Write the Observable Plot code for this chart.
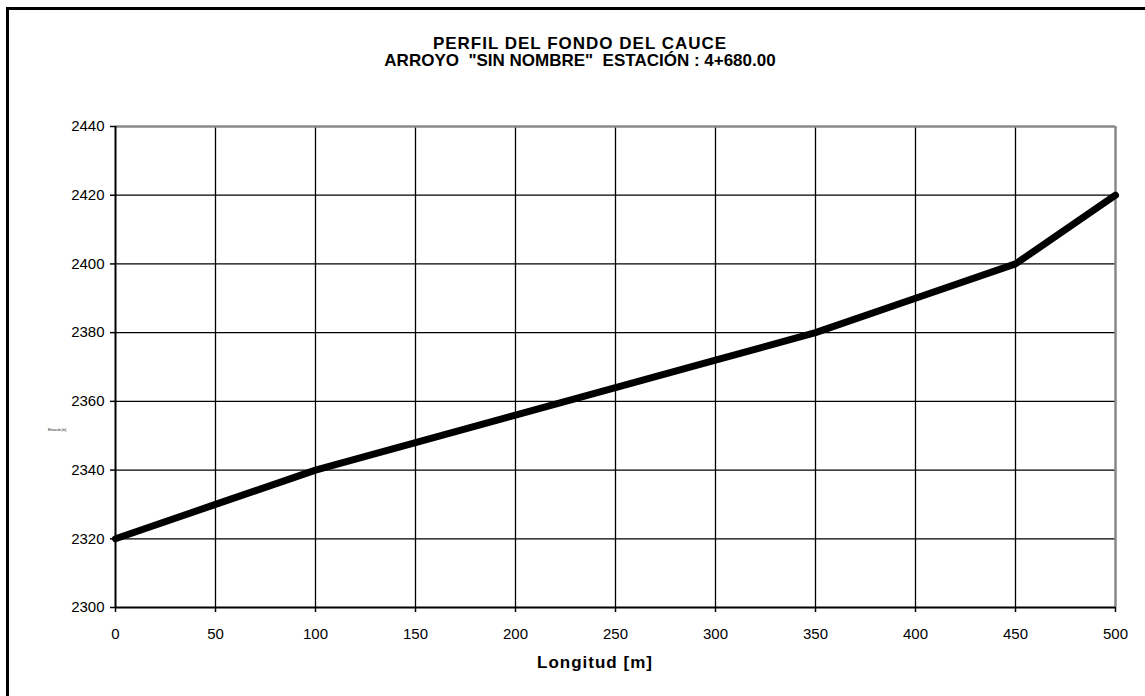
<!DOCTYPE html>
<html>
<head>
<meta charset="utf-8">
<script src="https://cdn.jsdelivr.net/npm/d3@7"></script>
<script src="https://cdn.jsdelivr.net/npm/@observablehq/plot@0.6"></script>
<style>
  html, body { margin: 0; padding: 0; background: #fff; overflow: hidden; }
  body { width: 1145px; height: 696px; position: relative; font-family: "Liberation Sans", Arial, sans-serif; }
  #frameL { position: absolute; left: 6px; top: 7px; width: 3px; height: 689px; background: #000; }
  #frameT { position: absolute; left: 6px; top: 7px; width: 1139px; height: 3px; background: #000; }
  #chart { position: absolute; left: 0; top: 0; }
  .title { position: absolute; left: 0; width: 1160px; text-align: center; font-weight: bold; font-size: 17px; color: #000; line-height: 17px; white-space: pre; }
  #xlabel { position: absolute; left: 495px; width: 200px; top: 653px; text-align: center; font-weight: bold; font-size: 17px; letter-spacing: 1px; }
  #ylabel { position: absolute; left: 48px; top: 428px; font-size: 3px; }
</style>
</head>
<body>
<div id="chart"></div>
<div id="frameL"></div>
<div id="frameT"></div>
<div class="title" style="top:35px; letter-spacing:1px">PERFIL DEL FONDO DEL CAUCE</div>
<div class="title" style="top:52px">ARROYO  "SIN NOMBRE"  ESTACIÓN : 4+680.00</div>
<div id="xlabel">Longitud [m]</div>
<div id="ylabel">Elevación [m]</div>
<script>
const longitud = [0, 50, 100, 150, 200, 250, 300, 350, 400, 450, 500];
const elevacion = [2320, 2330, 2340, 2348, 2356, 2364, 2372, 2380, 2390, 2400, 2420];
const xTicks = [0, 50, 100, 150, 200, 250, 300, 350, 400, 450, 500];
const yTicks = [2300, 2320, 2340, 2360, 2380, 2400, 2420, 2440];

const data = longitud.map((x, i) => ({x, y: elevacion[i]}));

const chart = Plot.plot({
  width: 1145,
  height: 696,
  marginLeft: 115,
  marginRight: 30,
  marginTop: 126,
  marginBottom: 89,
  style: {fontFamily: '"Liberation Sans", Arial, sans-serif', fontSize: "15px", color: "#000", background: "transparent"},
  x: {domain: [0, 500]},
  y: {domain: [2300, 2440]},
  marks: [
    Plot.ruleX(xTicks.filter(d => d > 0 && d < 500), {stroke: "#000", strokeWidth: 1.3}),
    Plot.ruleY(yTicks.filter(d => d > 2300 && d < 2440), {stroke: "#000", strokeWidth: 1.3}),
    Plot.ruleY([2440], {stroke: "#888", strokeWidth: 2.5}),
    Plot.ruleX([500], {stroke: "#888", strokeWidth: 2.5}),
    Plot.ruleX([0], {stroke: "#000", strokeWidth: 2}),
    Plot.ruleY([2300], {stroke: "#000", strokeWidth: 2}),
    Plot.axisX({ticks: xTicks, tickFormat: d => String(d), tickSize: 5, tickPadding: 16, stroke: "#000", strokeWidth: 1.5, fontSize: 15, label: null}),
    Plot.axisY({ticks: yTicks, tickFormat: d => String(d), tickSize: 5, tickPadding: 6, stroke: "#000", strokeWidth: 1.5, fontSize: 15, label: null}),
    Plot.line(data, {x: "x", y: "y", stroke: "#000", strokeWidth: 7, strokeLinejoin: "round", strokeLinecap: "round"})
  ]
});
document.getElementById("chart").appendChild(chart);
</script>
</body>
</html>
